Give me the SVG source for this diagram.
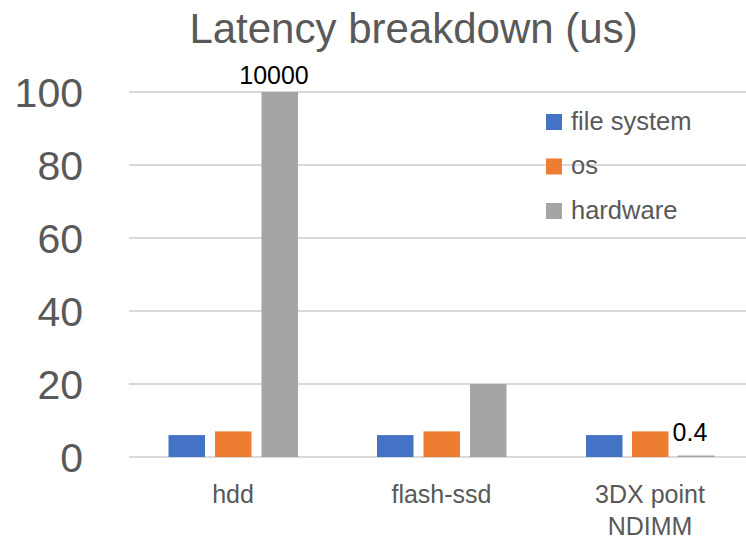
<svg xmlns="http://www.w3.org/2000/svg" width="746" height="540" viewBox="0 0 746 540">
<style>
  text { font-family: "Liberation Sans", Arial, sans-serif; fill: #595959; }
  .grid { stroke: #d9d9d9; stroke-width: 2; fill: none; }
  .tick { font-size: 41px; text-anchor: end; }
  .cat { font-size: 25px; text-anchor: middle; }
  .lab { font-size: 25px; text-anchor: middle; fill: #000000; }
  .leg { font-size: 25.5px; }
  .fs { fill: #4472c4; }
  .os { fill: #ed7d31; }
  .hw { fill: #a5a5a5; }
</style>
<rect width="746" height="540" fill="#ffffff"/>
<text id="title" x="413.5" y="43" font-size="42" text-anchor="middle">Latency breakdown (us)</text>

<g id="gridlines">
  <line class="grid" x1="129" y1="92" x2="746" y2="92"/>
  <line class="grid" x1="129" y1="165" x2="746" y2="165"/>
  <line class="grid" x1="129" y1="238" x2="746" y2="238"/>
  <line class="grid" x1="129" y1="311" x2="746" y2="311"/>
  <line class="grid" x1="129" y1="384" x2="746" y2="384"/>
  <line class="grid" x1="129" y1="457" x2="746" y2="457"/>
</g>

<g id="y-axis">
  <text class="tick" x="83" y="107">100</text>
  <text class="tick" x="83" y="180">80</text>
  <text class="tick" x="83" y="253">60</text>
  <text class="tick" x="83" y="326">40</text>
  <text class="tick" x="83" y="399">20</text>
  <text class="tick" x="83" y="472">0</text>
</g>

<g id="hdd">
  <rect class="fs" x="168.5" y="435.1" width="36.5" height="21.9"/>
  <rect class="os" x="215" y="431.4" width="36.5" height="25.6"/>
  <rect class="hw" x="261.5" y="92" width="36.5" height="365"/>
  <text class="lab" x="274" y="84">10000</text>
  <text class="cat" x="233" y="503">hdd</text>
</g>

<g id="flash-ssd">
  <rect class="fs" x="377" y="435.1" width="36.5" height="21.9"/>
  <rect class="os" x="423.5" y="431.4" width="36.5" height="25.6"/>
  <rect class="hw" x="470" y="384" width="36.5" height="73"/>
  <text class="cat" x="441.5" y="503">flash-ssd</text>
</g>

<g id="nvdimm">
  <rect class="fs" x="586" y="435.1" width="36.5" height="21.9"/>
  <rect class="os" x="632" y="431.4" width="36.5" height="25.6"/>
  <rect class="hw" x="678" y="455.5" width="36.5" height="1.5"/>
  <text class="lab" x="690" y="441">0.4</text>
  <text class="cat" x="650" y="503">3DX point</text>
  <text class="cat" x="650" y="535">NDIMM</text>
</g>

<g id="legend">
  <rect class="fs" x="546" y="114" width="16" height="16"/>
  <text class="leg" x="571" y="130">file system</text>
  <rect class="os" x="546" y="158.5" width="16" height="16"/>
  <text class="leg" x="571" y="174">os</text>
  <rect class="hw" x="546" y="203" width="16" height="16"/>
  <text class="leg" x="571" y="218.5">hardware</text>
</g>
</svg>
